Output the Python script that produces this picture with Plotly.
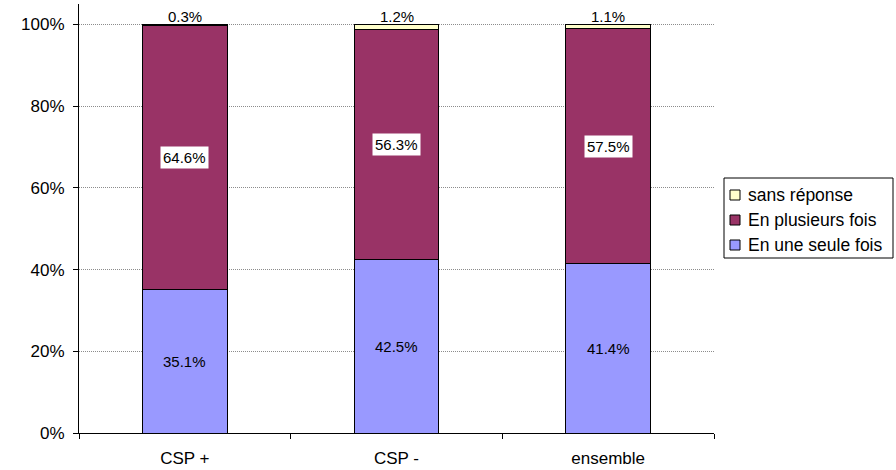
import plotly.graph_objects as go

categories = ["CSP +", "CSP -", "ensemble"]
une_seule = [35.1, 42.5, 41.4]
plusieurs = [64.6, 56.3, 57.5]
sans_rep = [0.3, 1.2, 1.1]

series_names = ["En une seule fois", "En plusieurs fois", "sans réponse"]
colors = ["#9999FF", "#993366", "#FFFFCC"]

font_family = "Liberation Sans, Arial, sans-serif"

W, H = 896, 470
ML, MR, MT, MB = 79, 182, 4, 37
PW, PH = W - ML - MR, H - MT - MB


def px_x(x):
    return (x - ML) / PW


def px_y(y):
    return (H - MB - y) / PH


fig = go.Figure()
for name, vals, col in zip(series_names, [une_seule, plusieurs, sans_rep], colors):
    fig.add_trace(go.Bar(
        x=categories, y=[v / 100 for v in vals], name=name,
        marker=dict(color=col, line=dict(color="black", width=1)),
        width=0.4, hoverinfo="skip", showlegend=False
    ))

annotations = []
for i, c in enumerate(categories):
    a, b, s = une_seule[i] / 100, plusieurs[i] / 100, sans_rep[i] / 100
    annotations.append(dict(x=c, y=a / 2, text=f"{une_seule[i]:.1f}%", showarrow=False,
                            font=dict(size=15, color="black", family=font_family)))
    annotations.append(dict(x=c, y=a + b / 2, text=f"{plusieurs[i]:.1f}%", showarrow=False,
                            bgcolor="white", borderpad=2,
                            font=dict(size=15, color="black", family=font_family)))
    annotations.append(dict(x=c, y=a + b + s, text=f"{sans_rep[i]:.1f}%", showarrow=False,
                            yanchor="bottom", yshift=-3,
                            font=dict(size=15, color="black", family=font_family)))

# manual legend (matches the original's compact box)
shapes = [dict(type="rect", xref="paper", yref="paper",
               x0=px_x(724), x1=px_x(893), y0=px_y(258), y1=px_y(178),
               line=dict(color="black", width=1), fillcolor="white", layer="above")]
legend_order = [2, 1, 0]
row_y = [195, 220, 245]
for ry, idx in zip(row_y, legend_order):
    shapes.append(dict(type="rect", xref="paper", yref="paper",
                       x0=px_x(730), x1=px_x(740), y0=px_y(ry + 5), y1=px_y(ry - 5),
                       line=dict(color="black", width=1), fillcolor=colors[idx], layer="above"))
    annotations.append(dict(xref="paper", yref="paper", x=px_x(746), y=px_y(ry),
                            xanchor="left", yanchor="middle", text=series_names[idx],
                            showarrow=False, font=dict(size=17.5, color="black", family=font_family)))

fig.update_layout(
    barmode="stack",
    width=W, height=H,
    margin=dict(l=ML, r=MR, t=MT, b=MB, autoexpand=False),
    paper_bgcolor="white", plot_bgcolor="white",
    font=dict(family=font_family, size=17, color="black"),
    showlegend=False,
    annotations=annotations,
    shapes=shapes,
    xaxis=dict(
        showline=True, linecolor="black", linewidth=1,
        ticks="outside", tickson="boundaries", ticklen=5, tickcolor="black",
        tickfont=dict(size=17), showgrid=False, automargin=False,
        ticklabelstandoff=10,
    ),
    yaxis=dict(
        range=[0, 1.05], tickvals=[0, 0.2, 0.4, 0.6, 0.8, 1.0],
        tickformat=".0%",
        showline=True, linecolor="black", linewidth=1,
        ticks="outside", ticklen=5, tickcolor="black",
        showgrid=True, gridcolor="#8c8c8c", griddash="1px,1px", gridwidth=1,
        tickfont=dict(size=17), zeroline=False, automargin=False,
        ticklabelstandoff=5,
    ),
)

fig.write_html("out.html",
               config={"displayModeBar": False},
               post_script="document.body.style.margin='0px';document.body.style.overflow='hidden';")
